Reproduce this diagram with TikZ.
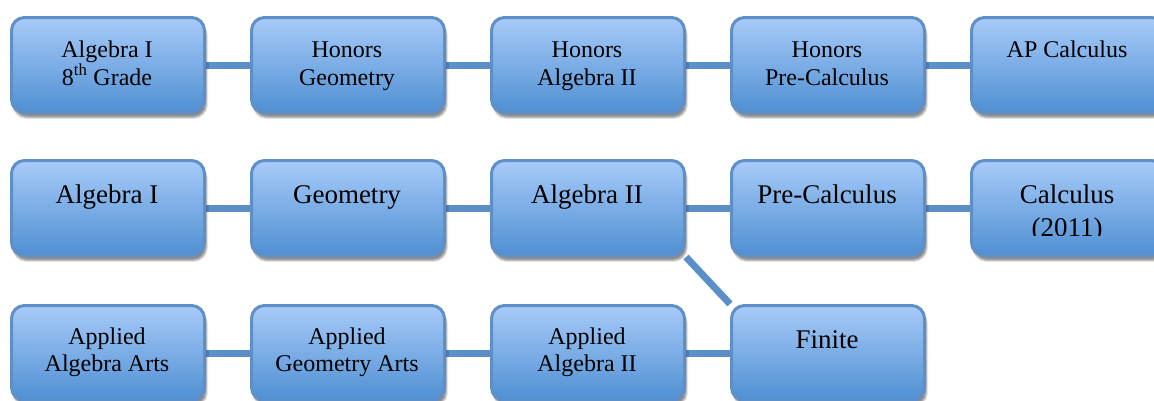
\documentclass[tikz,border=0pt]{standalone}
\usepackage{fontspec}
\setmainfont{Liberation Serif}
\usetikzlibrary{shadows.blur,backgrounds}
\definecolor{boxtop}{HTML}{A8CBF9}
\definecolor{boxbot}{HTML}{4F8FD2}
\definecolor{boxedge}{HTML}{5E8FC6}
\definecolor{connc}{HTML}{5B8FC8}
\tikzset{
  box/.style={rectangle, rounded corners=13pt, draw=boxedge, line width=3pt,
    top color=boxtop, bottom color=boxbot, minimum width=193pt, minimum height=95pt,
    anchor=north west, inner sep=0pt,
    blur shadow={shadow xshift=2pt, shadow yshift=-5pt, shadow opacity=45, shadow blur steps=6}},
  conn/.style={draw=connc, line width=7pt},
  small/.style={anchor=base, inner sep=0pt, font=\fontsize{24}{28}\selectfont},
  big/.style={anchor=base, inner sep=0pt, font=\fontsize{27}{31}\selectfont},
}
\begin{document}
\begin{tikzpicture}[x=1pt,y=-1pt]
\useasboundingbox (0,0) rectangle (1154,400);
\clip (0,0) rectangle (1154,400);
% row 1
\node[box] (b1) at (10,16) {};
\node[box] (b2) at (250,16) {};
\node[box] (b3) at (490,16) {};
\node[box] (b4) at (730,16) {};
\node[box] (b5) at (970,16) {};
% row 2
\node[box] (b6) at (10,159) {};
\node[box] (b7) at (250,159) {};
\node[box] (b8) at (490,159) {};
\node[box] (b9) at (730,159) {};
\node[box] (b10) at (970,159) {};
% row 3
\node[box] (b11) at (10,304) {};
\node[box] (b12) at (250,304) {};
\node[box] (b13) at (490,304) {};
\node[box] (b14) at (730,304) {};
\begin{pgfonlayer}{background}
\draw[conn] (b1.east) -- (b2.west);
\draw[conn] (b2.east) -- (b3.west);
\draw[conn] (b3.east) -- (b4.west);
\draw[conn] (b4.east) -- (b5.west);
\draw[conn] (b6.east) -- (b7.west);
\draw[conn] (b7.east) -- (b8.west);
\draw[conn] (b8.east) -- (b9.west);
\draw[conn] (b9.east) -- (b10.west);
\draw[conn] (b11.east) -- (b12.west);
\draw[conn] (b12.east) -- (b13.west);
\draw[conn] (b13.east) -- (b14.west);
\draw[conn] (b8.south east) -- (b14.north west);
\end{pgfonlayer}
% texts row 1
\node[small] (t1a) at (107,57) {Algebra I};
\node[small] (t1b) at (107,85) {8\textsuperscript{th} Grade};
\node[small] (t2a) at (347,57) {Honors};
\node[small] (t2b) at (347,85) {Geometry};
\node[small] (t3a) at (587,57) {Honors};
\node[small] (t3b) at (587,85) {Algebra II};
\node[small] (t4a) at (827,57) {Honors};
\node[small] (t4b) at (827,85) {Pre-Calculus};
\node[small] (t5a) at (1067,57) {AP Calculus};
% texts row 2
\node[big] (t6) at (107,203) {Algebra I};
\node[big] (t7) at (347,203) {Geometry};
\node[big] (t8) at (587,203) {Algebra II};
\node[big] (t9) at (827,203) {Pre-Calculus};
\begin{scope}
\clip (970,160) rectangle (1154,235);
\node[big] (t10a) at (1067,203) {Calculus};
\node[big] (t10b) at (1067,236) {(2011)};
\end{scope}
% texts row 3
\node[small] (t11a) at (107,344) {Applied};
\node[small] (t11b) at (107,371) {Algebra Arts};
\node[small] (t12a) at (347,344) {Applied};
\node[small] (t12b) at (347,371) {Geometry Arts};
\node[small] (t13a) at (587,344) {Applied};
\node[small] (t13b) at (587,371) {Algebra II};
\node[big] (t14) at (827,348) {Finite};
\end{tikzpicture}
\end{document}
